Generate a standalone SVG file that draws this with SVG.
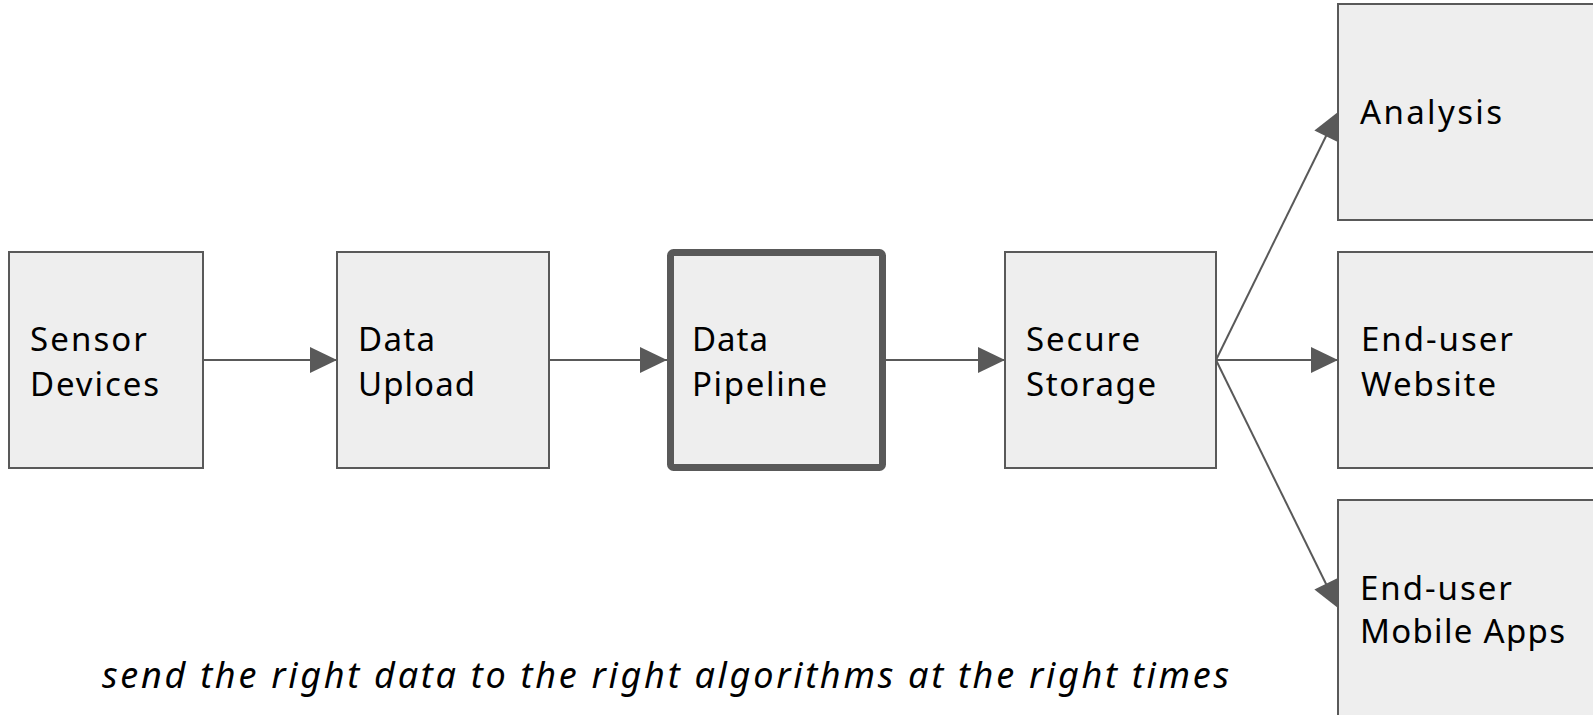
<svg xmlns="http://www.w3.org/2000/svg" width="1593" height="715" viewBox="0 0 1593 715">
  <style>
    .box { fill: #eeeeee; stroke: #595959; stroke-width: 2; }
    .box-main { fill: #eeeeee; stroke: #595959; stroke-width: 7; }
    .label { font-family: "Noto Sans", "Liberation Sans", sans-serif; font-size: 33px; fill: #000000; }
    .caption { font-family: "Noto Sans", "Liberation Sans", sans-serif; font-size: 36px; font-style: italic; fill: #000000; }
    .edge { stroke: #595959; stroke-width: 2; fill: none; marker-end: url(#arrow); }
    .spoke { stroke: #595959; stroke-width: 2; fill: none; }
    .head { fill: #595959; }
  </style>
  <defs>
    <marker id="arrow" viewBox="0 0 27 26" refX="27" refY="13" markerWidth="27" markerHeight="26" markerUnits="userSpaceOnUse" orient="auto">
      <path d="M0,0 L27,13 L0,26 Z" fill="#595959"/>
    </marker>
  </defs>

  <!-- connectors (drawn first so the boxes sit on top of the arrow tips) -->
  <g id="connectors">
    <line class="edge" x1="203" y1="360" x2="337" y2="360"/>
    <line class="edge" x1="549" y1="360" x2="667" y2="360"/>
    <line class="edge" x1="886" y1="360" x2="1005" y2="360"/>
    <line class="edge" x1="1216" y1="360" x2="1338" y2="360"/>
    <path class="spoke" d="M1216,360 L1330,128"/>
    <path class="spoke" d="M1216,360 L1330,592"/>
    <polygon class="head" points="1338,112 1337.8,141.9 1314.4,130.4"/>
    <polygon class="head" points="1338,608 1337.8,578.1 1314.4,589.6"/>
  </g>

  <g id="sensor-devices">
    <rect class="box" x="9" y="252" width="194" height="216"/>
    <text class="label" x="30" y="351" textLength="117">Sensor</text>
    <text class="label" x="30" y="396" textLength="129">Devices</text>
  </g>

  <g id="data-upload">
    <rect class="box" x="337" y="252" width="212" height="216"/>
    <text class="label" x="358" y="351" textLength="77">Data</text>
    <text class="label" x="358" y="396" textLength="117">Upload</text>
  </g>

  <g id="data-pipeline">
    <rect class="box-main" x="670.5" y="252.5" width="212" height="215" rx="3"/>
    <text class="label" x="692" y="351" textLength="76">Data</text>
    <text class="label" x="692" y="396" textLength="135">Pipeline</text>
  </g>

  <g id="secure-storage">
    <rect class="box" x="1005" y="252" width="211" height="216"/>
    <text class="label" x="1026" y="351" textLength="114">Secure</text>
    <text class="label" x="1026" y="396" textLength="130">Storage</text>
  </g>

  <g id="analysis">
    <rect class="box" x="1338" y="4" width="300" height="216"/>
    <text class="label" x="1360" y="124" textLength="142">Analysis</text>
  </g>

  <g id="end-user-website">
    <rect class="box" x="1338" y="252" width="300" height="216"/>
    <text class="label" x="1361" y="351" textLength="152">End-user</text>
    <text class="label" x="1361" y="396" textLength="135">Website</text>
  </g>

  <g id="end-user-mobile-apps">
    <rect class="box" x="1338" y="500" width="300" height="216"/>
    <text class="label" x="1360" y="600" textLength="152">End-user</text>
    <text class="label" x="1360" y="643" textLength="205">Mobile Apps</text>
  </g>

  <text class="caption" x="102" y="688" textLength="1127">send the right data to the right algorithms at the right times</text>
</svg>
